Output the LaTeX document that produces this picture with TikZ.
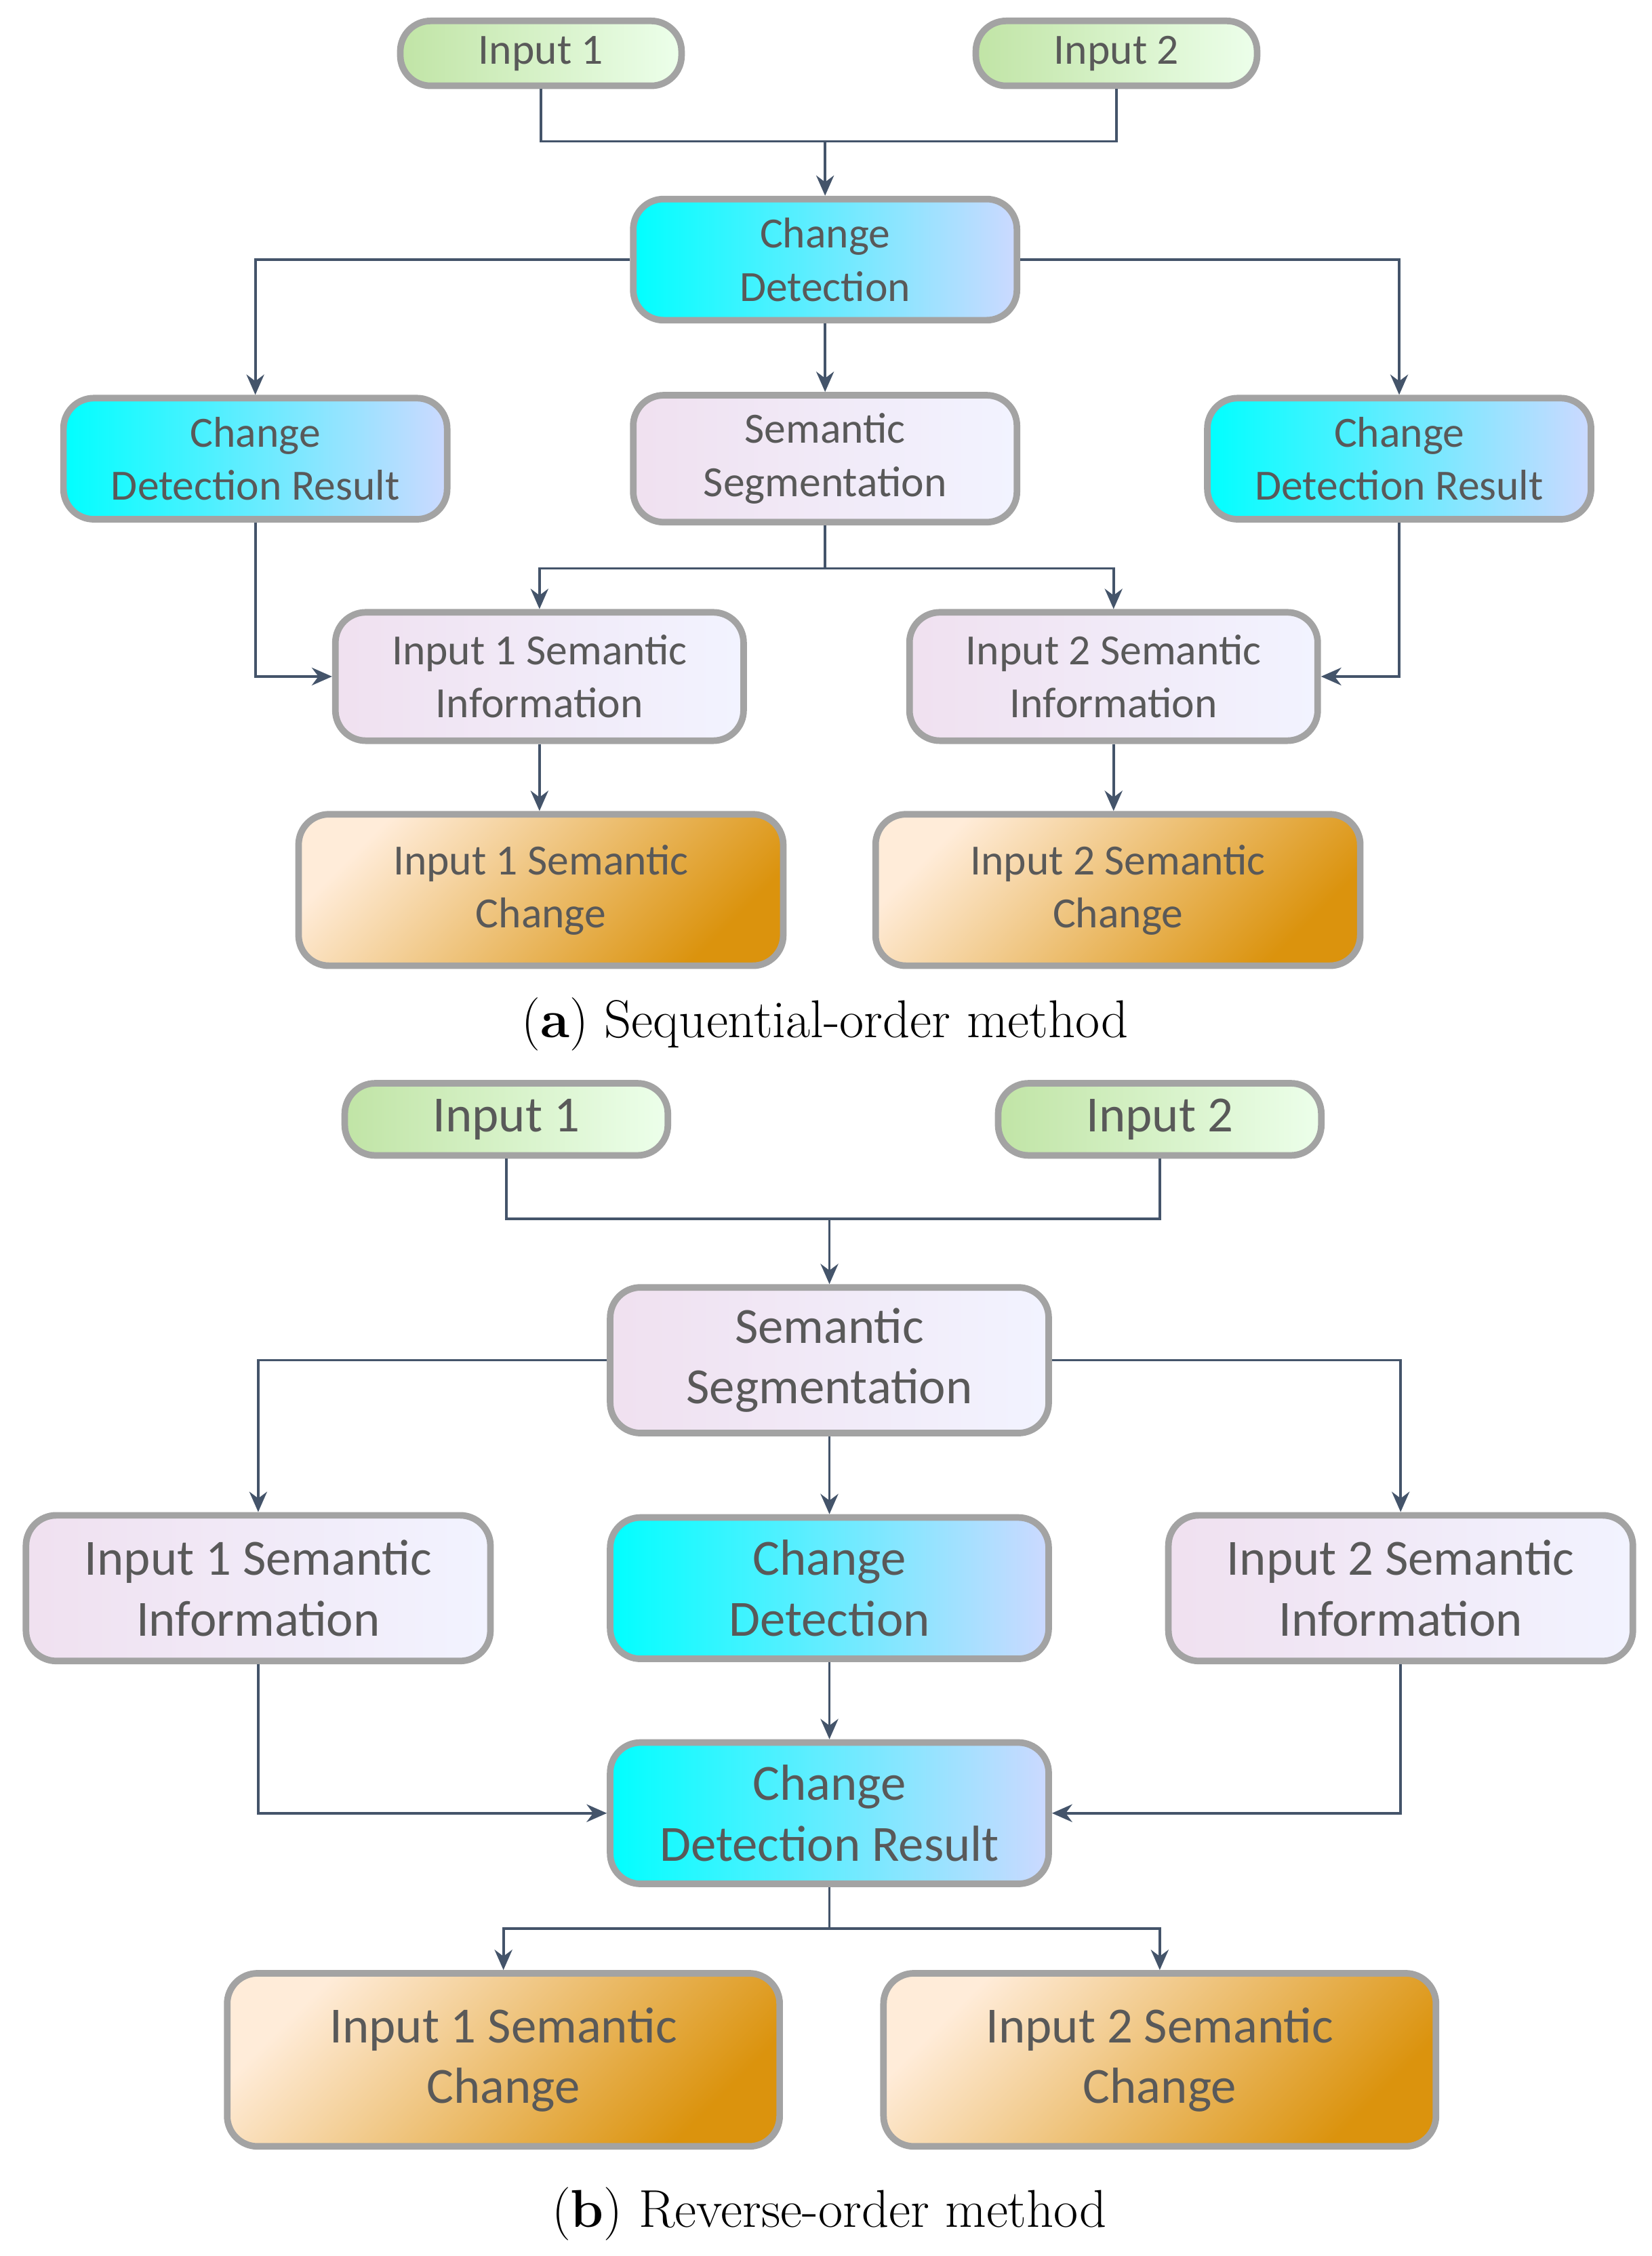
\documentclass[tikz,border=0pt]{standalone}
\usepackage{fontspec}
\setmainfont{Latin Modern Roman}
\newfontfamily\boxfont{Carlito}
\usetikzlibrary{arrows.meta}
\definecolor{bordr}{HTML}{A3A3A3}
\definecolor{txt}{HTML}{595959}
\definecolor{lnk}{HTML}{44546A}
\tikzset{
  x=0.02cm,y=-0.02cm,
  bx/.style={draw=bordr,line width=2.6pt,rounded corners=12pt,align=center,text=txt,inner sep=0pt},
  sA/.style={bx,font=\boxfont\fontsize{17}{21}\selectfont},
  sB/.style={bx,font=\boxfont\fontsize{20}{24}\selectfont},
  grn/.style={left color=green!40!olive!35!white,right color=yellow!10!green!8!white},
  cyn/.style={left color=cyan,right color=cyan!25!blue!20!white},
  lav/.style={left color=violet!12!white,right color=cyan!8!blue!5!white},
  org/.style={shading=axis,top color=orange!15!white,bottom color=orange!70!yellow!85!black!95,shading angle=45},
  ln/.style={draw=lnk,line width=1pt},
  ar/.style={ln,-{Stealth[length=8pt,width=7pt]}},
  captxt/.style={font=\fontsize{21}{25}\selectfont}
}
\newcommand{\bxx}[6]{\node[#1,#2,minimum width=#3*0.02cm,minimum height=#4*0.02cm] (#5) at #6}
\begin{document}
\begin{tikzpicture}
\useasboundingbox (0,0) rectangle (1145,1564);
% (a)
\bxx{sA}{grn}{195}{45}{ai1}{(375,37)} {Input 1};
\bxx{sA}{grn}{195}{45}{ai2}{(774,37)} {Input 2};
\bxx{sA}{cyn}{266}{84}{acd}{(572,180)} {Change\\Detection};
\bxx{sA}{cyn}{266}{84}{acl}{(177,318)} {Change\\Detection Result};
\bxx{sA}{lav}{266}{88}{ass}{(572,318)} {Semantic\\Segmentation};
\bxx{sA}{cyn}{266}{84}{acr}{(970,318)} {Change\\Detection Result};
\bxx{sA}{lav}{283}{89}{as1}{(374,469)} {Input 1 Semantic\\Information};
\bxx{sA}{lav}{283}{89}{as2}{(772,469)} {Input 2 Semantic\\Information};
\bxx{sA}{org}{336}{105}{ac1}{(375,617)} {Input 1 Semantic\\Change};
\bxx{sA}{org}{336}{105}{ac2}{(775,617)} {Input 2 Semantic\\Change};
\node[captxt] (capa) at (572,710) {(\textbf{a}) Sequential-order method};
\coordinate (aj) at (572,98);
\draw[ln] (ai1.south) |- (aj) -| (ai2.south);
\draw[ar] (aj) -- (acd.north);
\draw[ar] (acd.west) -| (acl.north);
\draw[ar] (acd.east) -| (acr.north);
\draw[ar] (acd.south) -- (ass.north);
\coordinate (ak) at (572,394);
\draw[ln] (ass.south) -- (ak);
\draw[ar] (ak) -| (as1.north);
\draw[ar] (ak) -| (as2.north);
\draw[ar] (acl.south) |- (as1.west);
\draw[ar] (acr.south) |- (as2.east);
\draw[ar] (as1.south) -- (as1.south |- ac1.north);
\draw[ar] (as2.south) -- (as2.south |- ac2.north);
% (b)
\bxx{sB}{grn}{224}{50}{bi1}{(351,776)} {Input 1};
\bxx{sB}{grn}{224}{50}{bi2}{(804,776)} {Input 2};
\bxx{sB}{lav}{304}{101}{bss}{(575,943)} {Semantic\\Segmentation};
\bxx{sB}{lav}{322}{101}{bs1}{(179,1101)} {Input 1 Semantic\\Information};
\bxx{sB}{cyn}{304}{98}{bcd}{(575,1101)} {Change\\Detection};
\bxx{sB}{lav}{322}{101}{bs2}{(971,1101)} {Input 2 Semantic\\Information};
\bxx{sB}{cyn}{304}{98}{bcr}{(575,1257)} {Change\\Detection Result};
\bxx{sB}{org}{383}{120}{bc1}{(349,1428)} {Input 1 Semantic\\Change};
\bxx{sB}{org}{383}{120}{bc2}{(804,1428)} {Input 2 Semantic\\Change};
\node[captxt] (capb) at (575,1535) {(\textbf{b}) Reverse-order method};
\coordinate (bj) at (575,845);
\draw[ln] (bi1.south) |- (bj) -| (bi2.south);
\draw[ar] (bj) -- (bss.north);
\draw[ar] (bss.west) -| (bs1.north);
\draw[ar] (bss.east) -| (bs2.north);
\draw[ar] (bss.south) -- (bcd.north);
\draw[ar] (bcd.south) -- (bcr.north);
\draw[ar] (bs1.south) |- (bcr.west);
\draw[ar] (bs2.south) |- (bcr.east);
\coordinate (bk) at (575,1337);
\draw[ln] (bcr.south) -- (bk);
\draw[ar] (bk) -| (bc1.north);
\draw[ar] (bk) -| (bc2.north);
\end{tikzpicture}
\end{document}
